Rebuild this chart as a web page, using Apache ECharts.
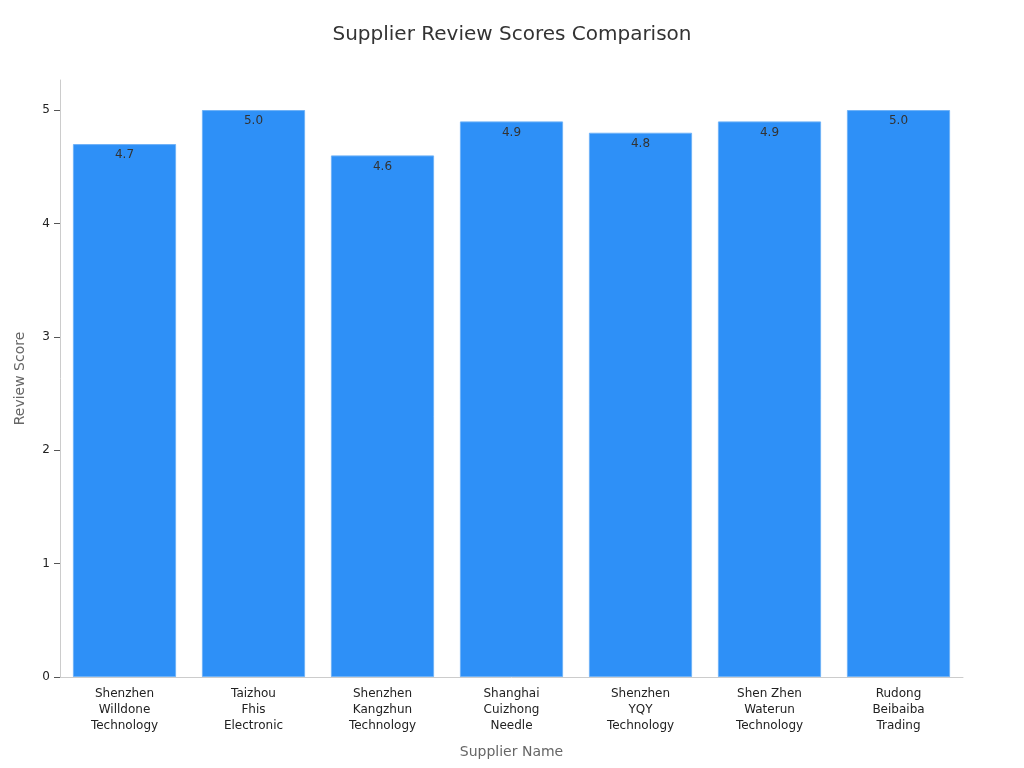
<!DOCTYPE html>
<html>
<head>
<meta charset="utf-8">
<script src="https://cdn.jsdelivr.net/npm/echarts@6/dist/echarts.min.js"></script>
<style>html,body{margin:0;padding:0;background:#fff}#c{width:1024px;height:768px}</style>
</head>
<body>
<div id="c"></div>
<script>
const categories = [
  "Shenzhen\nWilldone\nTechnology",
  "Taizhou\nFhis\nElectronic",
  "Shenzhen\nKangzhun\nTechnology",
  "Shanghai\nCuizhong\nNeedle",
  "Shenzhen\nYQY\nTechnology",
  "Shen Zhen\nWaterun\nTechnology",
  "Rudong\nBeibaiba\nTrading"
];
const scores = [4.7, 5.0, 4.6, 4.9, 4.8, 4.9, 5.0];
const yTicks = [0, 1, 2, 3, 4, 5];

const chart = echarts.init(document.getElementById('c'));
chart.setOption({
  animation: false,
  textStyle: { fontFamily: 'DejaVu Sans' },
  title: {
    text: 'Supplier Review Scores Comparison',
    left: 'center', top: 20,
    textStyle: { fontSize: 20, fontWeight: 'normal', color: '#333', fontFamily: 'DejaVu Sans' }
  },
  grid: { left: 60, right: 61, top: 80, bottom: 91, containLabel: false, outerBoundsMode: 'none' },
  xAxis: {
    type: 'category',
    data: categories,
    name: 'Supplier Name',
    nameLocation: 'middle',
    nameGap: 68,
    nameTextStyle: { fontSize: 14, color: '#666' },
    axisLine: { lineStyle: { color: '#ccc' } },
    axisTick: { alignWithLabel: true, length: 5, lineStyle: { color: '#555' } },
    axisLabel: { color: '#222', fontSize: 12, lineHeight: 16, margin: 9, interval: 0 }
  },
  yAxis: {
    type: 'value',
    min: 0, max: 5.265, interval: 1,
    name: 'Review Score',
    nameLocation: 'middle',
    nameGap: 33,
    nameTextStyle: { fontSize: 14, color: '#666' },
    splitLine: { show: false },
    axisLine: { show: true, lineStyle: { color: '#ccc' } },
    axisTick: { show: true, length: 6, customValues: yTicks, lineStyle: { color: '#555' } },
    axisLabel: { color: '#222', fontSize: 12, margin: 10, customValues: yTicks }
  },
  series: [{
    type: 'bar',
    data: scores,
    barCategoryGap: '20%',
    itemStyle: { color: '#2e90f7', borderColor: '#6fb2f7', borderWidth: 1 },
    label: {
      show: true, position: 'insideTop', distance: 5,
      color: '#333', fontSize: 12,
      formatter: p => p.value.toFixed(1)
    }
  }]
});
</script>
</body>
</html>
